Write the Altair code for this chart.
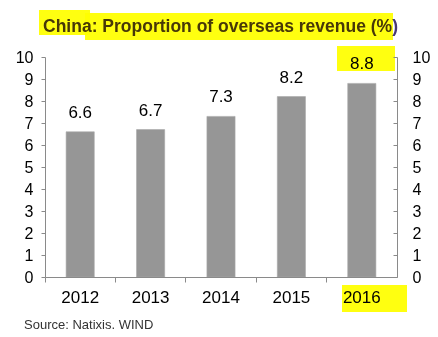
import altair as alt
import pandas as pd

years = ["2012", "2013", "2014", "2015", "2016"]
values = [6.6, 6.7, 7.3, 8.2, 8.8]
y_ticks = [0, 1, 2, 3, 4, 5, 6, 7, 8, 9, 10]
title_text = ["China: Proportion of overseas revenue (%)"]
source_text = ["Source: Natixis. WIND"]

df = pd.DataFrame({"year": years, "value": values})

W, H = 352, 220
FONT = "Liberation Sans"
AXIS_GRAY = "#8a8a8a"
BAR_GRAY = "#969696"
YELLOW = "#ffff10"

x_enc = alt.X(
    "year:N",
    sort=years,
    scale=alt.Scale(paddingInner=0, paddingOuter=0),
    axis=alt.Axis(
        title=None, labelAngle=0, labelFontSize=17, labelFont=FONT,
        labelColor="black", labelPadding=7, tickSize=5, bandPosition=0,
        domainColor=AXIS_GRAY, tickColor=AXIS_GRAY, grid=False, zindex=1,
    ),
)

y_scale = alt.Scale(domain=[0, 10], nice=False, zero=True)

bars = alt.Chart(df).mark_bar(
    color=BAR_GRAY, width=alt.RelativeBandSize(0.4),
    stroke="#a8a8a8", strokeWidth=0.6,
).encode(
    x=x_enc,
    y=alt.Y(
        "value:Q", scale=y_scale,
        axis=alt.Axis(
            title=None, values=y_ticks, orient="left", labelFontSize=16,
            labelFont=FONT, labelColor="black", labelPadding=8, tickSize=4,
            domainColor=AXIS_GRAY, tickColor=AXIS_GRAY, grid=False, zindex=1,
        ),
    ),
)

labels = alt.Chart(df).mark_text(
    font=FONT, fontSize=17, color="black", baseline="alphabetic", dy=-14,
).encode(
    x=alt.X("year:N", sort=years),
    y=alt.Y(
        "value:Q", scale=y_scale,
        axis=alt.Axis(
            title=None, values=y_ticks, orient="left", offset=-W,
            labelAlign="left", labelPadding=-19, labelFontSize=16,
            labelFont=FONT, labelColor="black", tickSize=4,
            domainColor=AXIS_GRAY, tickColor=AXIS_GRAY, grid=False, zindex=1,
        ),
    ),
    text=alt.Text("value:Q", format=".1f"),
)

title = alt.Chart(pd.DataFrame({"t": title_text})).mark_text(
    font=FONT, fontSize=17.5, fontWeight="bold", color="#473872",
    align="center", baseline="alphabetic",
).encode(x=alt.value(175.5), y=alt.value(-25), text="t:N")

source = alt.Chart(pd.DataFrame({"t": source_text})).mark_text(
    font=FONT, fontSize=13, color="#333333", align="left", baseline="alphabetic",
).encode(x=alt.value(-21), y=alt.value(272), text="t:N")


def highlight(x1, x2, y1, y2):
    return alt.Chart(alt.Data(values=[{}])).mark_rect(
        color=YELLOW, blend="multiply"
    ).encode(
        x=alt.value(x1), x2=alt.value(x2), y=alt.value(y1), y2=alt.value(y2)
    )


hl = [
    highlight(-6, 45, -47, -22),
    highlight(40, 348, -44, -17),
    highlight(292, 350, -11, 14),
    highlight(297, 362, 228, 255),
]

chart = alt.layer(bars, labels, title, source, *hl).resolve_axis(
    y="independent"
).properties(
    width=W, height=H, autosize="none",
    padding={"left": 45, "top": 57, "right": 41, "bottom": 60},
    background="white",
).configure_view(stroke=None)

chart.save("out.html", embed_options={"renderer": "svg", "actions": False})
